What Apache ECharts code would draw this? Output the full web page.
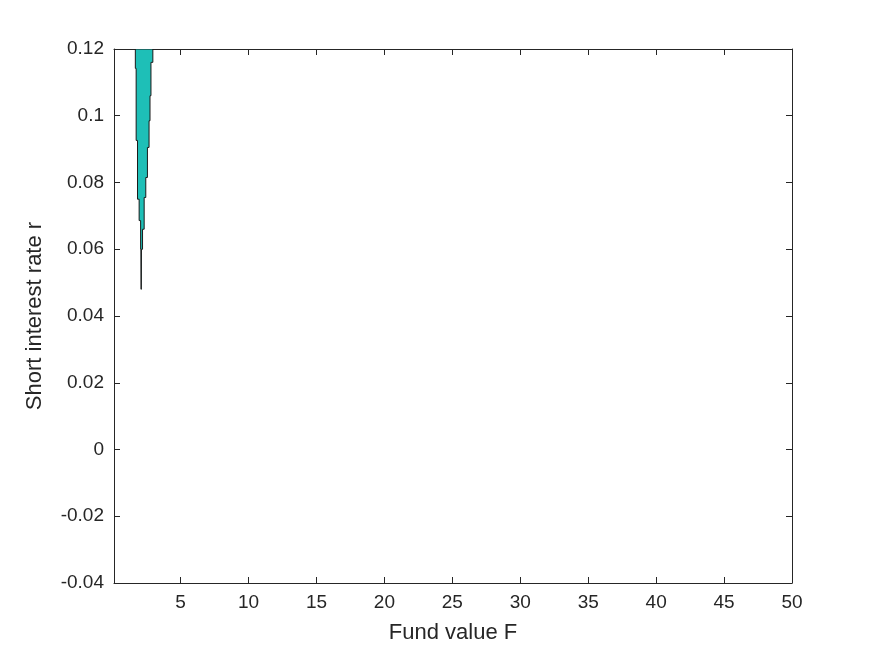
<!DOCTYPE html>
<html>
<head>
<meta charset="utf-8">
<script src="https://cdn.jsdelivr.net/npm/echarts@6/dist/echarts.min.js"></script>
<style>
  html, body { margin: 0; padding: 0; background: #fff; }
  #chart { width: 875px; height: 656px; }
</style>
</head>
<body>
<div id="chart"></div>
<script>
// tick values
const xTicks = [5, 10, 15, 20, 25, 30, 35, 40, 45, 50];
const yTicks = [-0.04, -0.02, 0, 0.02, 0.04, 0.06, 0.08, 0.1, 0.12];

// boundary of the shaded region (fund value F, short rate r), right edge going down, left edge going up
const boundaryF = [
  2.96, 2.96, 2.82, 2.82, 2.75, 2.75, 2.68, 2.68, 2.56, 2.56, 2.44, 2.44, 2.32, 2.32, 2.20, 2.20,
  2.12, 2.11, 2.09, 2.08,
  2.06, 2.06, 1.95, 1.95, 1.83, 1.83, 1.73, 1.73, 1.67, 1.67
];
const boundaryR = [
  0.1200, 0.1160, 0.1160, 0.1060, 0.1060, 0.0985, 0.0985, 0.0905, 0.0905, 0.0815, 0.0815, 0.0755, 0.0755, 0.0660, 0.0660, 0.0600,
  0.0600, 0.0480, 0.0480, 0.0600,
  0.0600, 0.0686, 0.0686, 0.0750, 0.0750, 0.0926, 0.0926, 0.1142, 0.1142, 0.1200
];

const axisColor = "#262626";
const fontFamily = "'Liberation Sans', Arial, Helvetica, sans-serif";

let chart = echarts.init(document.getElementById("chart"));

let points = boundaryF.map((f, i) => [f, boundaryR[i]]);

let chartOptions = {
  animation: false,
  grid: {
    left: 114,
    right: 83,
    top: 49,
    bottom: 73
  },
  xAxis: [
    {
      type: "value",
      min: 0.1,
      max: 50,
      name: "Fund value F",
      nameLocation: "middle",
      nameGap: 39,
      nameTextStyle: { color: axisColor, fontSize: 22, fontFamily: fontFamily },
      axisLine: { show: true, onZero: false, lineStyle: { color: axisColor, width: 1 } },
      axisTick: { show: true, inside: true, length: 6, customValues: xTicks, lineStyle: { color: axisColor } },
      axisLabel: { customValues: xTicks, color: axisColor, fontSize: 19, fontFamily: fontFamily, margin: 10 },
      splitLine: { show: false }
    },
    {
      type: "value",
      position: "top",
      min: 0.1,
      max: 50,
      axisLine: { show: true, onZero: false, lineStyle: { color: axisColor, width: 1 } },
      axisTick: { show: true, inside: true, length: 6, customValues: xTicks, lineStyle: { color: axisColor } },
      axisLabel: { show: false },
      splitLine: { show: false }
    }
  ],
  yAxis: [
    {
      type: "value",
      min: -0.04,
      max: 0.12,
      interval: 0.02,
      name: "Short interest rate r",
      nameLocation: "middle",
      nameGap: 68,
      nameTextStyle: { color: axisColor, fontSize: 22, fontFamily: fontFamily },
      axisLine: { show: true, onZero: false, lineStyle: { color: axisColor, width: 1 } },
      axisTick: { show: true, inside: true, length: 6, lineStyle: { color: axisColor } },
      axisLabel: {
        color: axisColor,
        fontSize: 19,
        fontFamily: fontFamily,
        margin: 10,
        formatter: (v) => String(+v.toFixed(2))
      },
      splitLine: { show: false }
    },
    {
      type: "value",
      position: "right",
      min: -0.04,
      max: 0.12,
      interval: 0.02,
      axisLine: { show: true, onZero: false, lineStyle: { color: axisColor, width: 1 } },
      axisTick: { show: true, inside: true, length: 6, lineStyle: { color: axisColor } },
      axisLabel: { show: false },
      splitLine: { show: false }
    }
  ],
  series: [
    {
      type: "custom",
      clip: true,
      data: points,
      renderItem: (params, api) => {
        if (params.dataIndex !== 0) return null;
        let pts = points.map((p) => api.coord(p));
        return {
          type: "polygon",
          shape: { points: pts },
          style: { fill: "#1ebfb7", stroke: "#1a1a1a", lineWidth: 1 }
        };
      }
    }
  ]
};

chart.setOption(chartOptions);
</script>
</body>
</html>
